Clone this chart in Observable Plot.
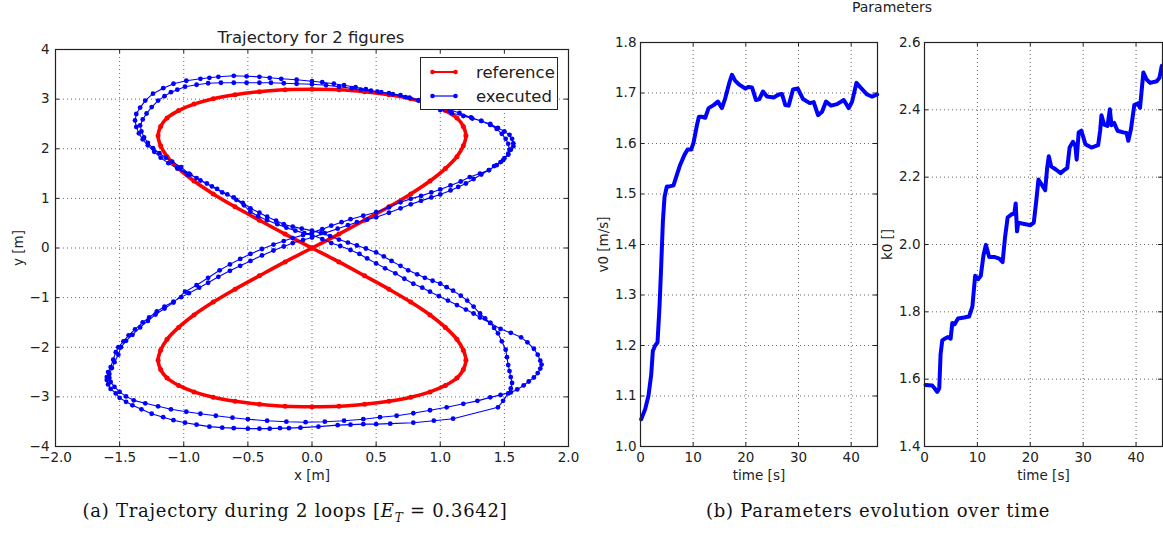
<!DOCTYPE html>
<html><head><meta charset="utf-8">
<script src="https://cdn.jsdelivr.net/npm/d3@7"></script>
<script src="https://cdn.jsdelivr.net/npm/@observablehq/plot@0.6"></script>
<style>
body{margin:0;background:#fff;}
#root{position:relative;width:1163px;height:533px;overflow:hidden;font-family:"DejaVu Sans",sans-serif;color:#222;background:#fff}
.abs{position:absolute;white-space:nowrap}
.cap{font-family:"DejaVu Serif",serif;font-size:18px;letter-spacing:0.75px;color:#111;text-align:center}
.legend{position:absolute;left:420px;top:57px;width:138px;height:53px;border:1px solid #222;background:#fff;box-sizing:border-box;font-size:16.5px}
.legend .row{position:absolute;left:9px;height:20px;display:flex;align-items:center}
.legend .row span{margin-left:18px}
</style></head><body><div id="root"></div>
<script>
// ---------- data ----------
const trajXTicks = [-2, -1.5, -1, -0.5, 0, 0.5, 1, 1.5, 2];
const trajYTicks = [-4, -3, -2, -1, 0, 1, 2, 3, 4];
const timeTicks = [0, 10, 20, 30, 40];
const v0Ticks = [1.0, 1.1, 1.2, 1.3, 1.4, 1.5, 1.6, 1.7, 1.8];
const k0Ticks = [1.4, 1.6, 1.8, 2.0, 2.2, 2.4, 2.6];

const referenceX = [0,0.21,0.41,0.60,0.77,0.92,1.04,1.13,1.18,1.20,1.18,1.13,1.04,0.92,0.77,0.60,0.41,0.21,0,
  -0.21,-0.41,-0.60,-0.77,-0.92,-1.04,-1.13,-1.18,-1.20,-1.18,-1.13,-1.04,-0.92,-0.77,-0.60,-0.41,-0.21,0,
  0.21,0.41,0.60,0.77,0.92,1.04,1.13,1.18,1.20,1.18,1.13,1.04,0.92,0.77,0.60,0.41,0.21,0,
  -0.21,-0.41,-0.60,-0.77,-0.92,-1.04,-1.13,-1.18,-1.20,-1.18,-1.13,-1.04,-0.92,-0.77,-0.60,-0.41,-0.21,0];
const referenceY = [0,0.28,0.56,0.83,1.09,1.35,1.60,1.84,2.06,2.26,2.45,2.62,2.77,2.90,3.01,3.09,3.15,3.19,3.20,
  3.19,3.15,3.09,3.01,2.90,2.77,2.62,2.45,2.26,2.06,1.84,1.60,1.35,1.09,0.83,0.56,0.28,0,
  -0.28,-0.56,-0.83,-1.09,-1.35,-1.60,-1.84,-2.06,-2.26,-2.45,-2.62,-2.77,-2.90,-3.01,-3.09,-3.15,-3.19,-3.20,
  -3.19,-3.15,-3.09,-3.01,-2.90,-2.77,-2.62,-2.45,-2.26,-2.06,-1.84,-1.60,-1.35,-1.09,-0.83,-0.56,-0.28,0];

const executedLoop1 = [[-1.05,1.62],[-0.95,1.48],[-0.87,1.36],[-0.78,1.24],[-0.70,1.12],[-0.61,1.02],[-0.54,0.91],[-0.48,0.80],[-0.41,0.71],[-0.35,0.63],[-0.28,0.55],[-0.22,0.48],[-0.15,0.43],[-0.08,0.39],[0.0,0.35],[0.07,0.30],[0.14,0.24],[0.21,0.17],[0.28,0.11],[0.35,0.05],[0.42,-0.01],[0.50,-0.09],[0.56,-0.17],[0.62,-0.26],[0.69,-0.36],[0.75,-0.45],[0.82,-0.53],[0.88,-0.60],[0.94,-0.66],[1.00,-0.72],[1.05,-0.79],[1.10,-0.86],[1.16,-0.96],[1.21,-1.06],[1.26,-1.18],[1.31,-1.32],[1.35,-1.42],[1.39,-1.51],[1.42,-1.61],[1.45,-1.72],[1.48,-1.88],[1.51,-2.05],[1.52,-2.20],[1.53,-2.36],[1.54,-2.48],[1.55,-2.60],[1.56,-2.72],[1.55,-2.83],[1.53,-2.93],[1.49,-3.08],[1.45,-3.21],[1.10,-3.44],[0.95,-3.48],[0.79,-3.52],[0.61,-3.54],[0.50,-3.55],[0.40,-3.55],[0.30,-3.56],[0.20,-3.57],[0.05,-3.60],[-0.09,-3.62],[-0.18,-3.63],[-0.25,-3.63],[-0.33,-3.64],[-0.41,-3.64],[-0.50,-3.64],[-0.61,-3.63],[-0.70,-3.62],[-0.80,-3.60],[-0.90,-3.56],[-0.99,-3.52],[-1.08,-3.47],[-1.16,-3.41],[-1.25,-3.34],[-1.33,-3.25],[-1.40,-3.17],[-1.45,-3.10],[-1.50,-3.02],[-1.53,-2.93],[-1.57,-2.84],[-1.59,-2.75],[-1.60,-2.66],[-1.60,-2.60],[-1.59,-2.50],[-1.57,-2.40],[-1.55,-2.25],[-1.53,-2.10],[-1.51,-2.00],[-1.47,-1.88],[-1.43,-1.76],[-1.38,-1.64],[-1.32,-1.50],[-1.27,-1.40],[-1.21,-1.28],[-1.15,-1.18],[-1.08,-1.08],[-1.02,-0.99],[-0.96,-0.91],[-0.88,-0.80],[-0.81,-0.70],[-0.73,-0.58],[-0.64,-0.46],[-0.56,-0.36],[-0.48,-0.26],[-0.39,-0.15],[-0.30,-0.05],[-0.22,0.03],[-0.15,0.10],[-0.07,0.16],[0.0,0.21],[0.10,0.30],[0.20,0.39],[0.28,0.46],[0.35,0.52],[0.43,0.57],[0.50,0.62],[0.60,0.71],[0.69,0.80],[0.77,0.88],[0.85,0.95],[0.93,1.02],[1.00,1.08],[1.08,1.16],[1.14,1.23],[1.20,1.30],[1.26,1.39],[1.32,1.48],[1.38,1.57],[1.42,1.65],[1.47,1.73],[1.50,1.81],[1.53,1.90],[1.54,1.98],[1.53,2.10],[1.51,2.20],[1.48,2.30],[1.44,2.40],[1.39,2.48],[1.32,2.56],[1.24,2.63],[1.15,2.72],[1.07,2.79],[1.00,2.84],[0.92,2.91],[0.83,2.97],[0.73,3.04],[0.63,3.10],[0.54,3.14],[0.46,3.17],[0.38,3.19],[0.31,3.22],[0.21,3.25],[0.11,3.28],[0.0,3.30],[-0.12,3.31],[-0.22,3.32],[-0.32,3.33],[-0.41,3.33],[-0.51,3.33],[-0.61,3.33],[-0.71,3.33],[-0.81,3.32],[-0.90,3.29],[-0.99,3.25],[-1.05,3.19],[-1.10,3.14],[-1.15,3.06],[-1.20,2.97],[-1.25,2.84],[-1.29,2.71],[-1.32,2.59],[-1.34,2.47],[-1.33,2.35],[-1.31,2.23],[-1.28,2.12],[-1.24,2.01],[-1.19,1.91],[-1.14,1.82],[-1.09,1.74],[-1.02,1.63]];

const executedLoop2 = [[-0.96,1.50],[-0.90,1.41],[-0.82,1.30],[-0.74,1.19],[-0.66,1.08],[-0.59,0.97],[-0.53,0.86],[-0.48,0.73],[-0.42,0.64],[-0.35,0.56],[-0.27,0.48],[-0.20,0.41],[-0.13,0.35],[-0.06,0.30],[0.0,0.26],[0.08,0.18],[0.15,0.10],[0.22,0.04],[0.30,-0.04],[0.37,-0.12],[0.43,-0.21],[0.50,-0.31],[0.57,-0.41],[0.65,-0.51],[0.72,-0.62],[0.79,-0.72],[0.86,-0.80],[0.92,-0.88],[0.99,-0.97],[1.06,-1.06],[1.13,-1.15],[1.20,-1.24],[1.26,-1.32],[1.31,-1.40],[1.39,-1.51],[1.47,-1.63],[1.55,-1.71],[1.63,-1.80],[1.68,-1.90],[1.73,-2.03],[1.76,-2.15],[1.78,-2.27],[1.79,-2.35],[1.78,-2.43],[1.76,-2.52],[1.73,-2.61],[1.69,-2.69],[1.65,-2.77],[1.60,-2.85],[1.55,-2.91],[1.47,-2.96],[1.39,-3.01],[1.29,-3.08],[1.18,-3.14],[1.05,-3.21],[0.92,-3.27],[0.79,-3.33],[0.66,-3.38],[0.53,-3.41],[0.40,-3.45],[0.25,-3.48],[0.10,-3.50],[-0.05,-3.51],[-0.20,-3.50],[-0.35,-3.48],[-0.50,-3.45],[-0.62,-3.42],[-0.75,-3.38],[-0.87,-3.34],[-0.98,-3.30],[-1.10,-3.25],[-1.20,-3.19],[-1.30,-3.13],[-1.39,-3.07],[-1.45,-2.99],[-1.50,-2.90],[-1.54,-2.80],[-1.57,-2.70],[-1.58,-2.62],[-1.58,-2.54],[-1.56,-2.42],[-1.54,-2.30],[-1.51,-2.15],[-1.49,-2.00],[-1.45,-1.87],[-1.40,-1.75],[-1.34,-1.60],[-1.28,-1.47],[-1.22,-1.34],[-1.15,-1.22],[-1.08,-1.10],[-0.99,-0.88],[-0.90,-0.75],[-0.81,-0.60],[-0.72,-0.45],[-0.64,-0.33],[-0.56,-0.22],[-0.48,-0.12],[-0.39,-0.02],[-0.30,0.07],[-0.22,0.14],[-0.15,0.20],[-0.07,0.26],[0.0,0.31],[0.08,0.38],[0.15,0.45],[0.23,0.52],[0.30,0.58],[0.40,0.65],[0.50,0.72],[0.60,0.82],[0.69,0.92],[0.77,0.99],[0.85,1.05],[0.93,1.12],[1.00,1.18],[1.08,1.26],[1.16,1.34],[1.23,1.43],[1.31,1.50],[1.38,1.57],[1.44,1.67],[1.49,1.77],[1.53,1.88],[1.55,1.98],[1.57,2.05],[1.57,2.11],[1.56,2.20],[1.54,2.28],[1.50,2.35],[1.45,2.42],[1.39,2.50],[1.32,2.56],[1.25,2.61],[1.18,2.66],[1.09,2.72],[1.00,2.78],[0.92,2.88],[0.83,2.98],[0.76,3.03],[0.69,3.08],[0.60,3.12],[0.51,3.15],[0.42,3.20],[0.34,3.24],[0.25,3.28],[0.17,3.31],[0.08,3.34],[0.0,3.36],[-0.12,3.39],[-0.24,3.41],[-0.33,3.43],[-0.41,3.45],[-0.51,3.46],[-0.61,3.47],[-0.73,3.45],[-0.80,3.43],[-0.87,3.41],[-0.98,3.37],[-1.08,3.31],[-1.16,3.22],[-1.24,3.11],[-1.30,2.97],[-1.34,2.83],[-1.37,2.70],[-1.38,2.57],[-1.37,2.44],[-1.35,2.31],[-1.32,2.19],[-1.28,2.07],[-1.23,1.94],[-1.18,1.82],[-1.12,1.71],[-1.05,1.60],[-0.97,1.48]];

const timeV0 = [0.13,0.89,1.52,2.03,2.34,2.79,3.23,3.61,3.93,4.25,4.56,5.0,5.51,6.27,6.9,7.54,8.37,8.94,9.63,10.08,10.71,11.09,11.66,12.29,12.93,13.88,14.7,15.46,16.1,16.85,17.36,18.0,18.82,19.9,20.53,21.17,21.93,22.56,23.26,24.02,25.29,26.24,26.87,27.5,28.13,28.96,29.85,30.86,32.13,32.89,33.71,34.47,35.23,36.18,37.33,38.59,39.54,40.18,41.0,41.76,43.03,43.98,44.93];
const v0 = [1.054,1.074,1.101,1.142,1.189,1.200,1.206,1.277,1.358,1.446,1.494,1.515,1.515,1.517,1.538,1.558,1.578,1.588,1.588,1.602,1.636,1.653,1.653,1.651,1.670,1.676,1.683,1.670,1.690,1.720,1.736,1.724,1.716,1.709,1.712,1.711,1.686,1.688,1.703,1.693,1.691,1.697,1.698,1.676,1.675,1.707,1.709,1.688,1.680,1.682,1.656,1.663,1.683,1.675,1.678,1.686,1.670,1.683,1.720,1.711,1.697,1.693,1.697];

const timeK0 = [0.19,1.46,1.9,2.4,2.79,3.04,3.36,3.8,4.44,4.94,5.26,5.7,6.34,7.48,8.43,9.06,9.57,10.14,10.65,11.15,11.6,12.23,13.18,14.13,14.77,15.21,15.72,16.48,16.98,17.24,17.49,17.74,18.88,20.03,20.66,21.1,21.55,22.24,22.81,23.19,23.5,23.95,24.9,25.73,26.49,26.99,27.44,28.07,28.52,28.77,29.15,29.66,30.42,31.56,32.83,33.21,33.46,33.97,34.6,35.04,35.36,35.87,36.5,37.58,38.21,38.53,39.04,39.67,40.3,40.75,41.38,42.0,42.65,43.92,44.42,44.87];
const k0 = [1.583,1.581,1.573,1.562,1.573,1.674,1.715,1.720,1.725,1.720,1.767,1.763,1.780,1.783,1.786,1.816,1.907,1.897,1.907,1.968,1.999,1.963,1.963,1.958,1.948,2.019,2.080,2.090,2.092,2.122,2.039,2.065,2.061,2.057,2.065,2.125,2.193,2.176,2.161,2.227,2.262,2.232,2.222,2.212,2.222,2.227,2.288,2.305,2.293,2.252,2.333,2.338,2.298,2.288,2.295,2.338,2.384,2.356,2.352,2.402,2.354,2.361,2.338,2.333,2.331,2.308,2.343,2.414,2.419,2.406,2.511,2.490,2.480,2.485,2.495,2.531];

// ---------- build ----------
const reference = referenceX.map((x, i) => ({x, y: referenceY[i]}));
const executed = executedLoop1.concat(executedLoop2).map(([x, y]) => ({x, y}));
const v0Data = timeV0.map((t, i) => ({t, v: v0[i]}));
const k0Data = timeK0.map((t, i) => ({t, v: k0[i]}));

const fmt1 = d3.format(".1f");
const fmt0 = d3.format("d");
const gridStyle = {stroke: "#555", strokeOpacity: 0.9, strokeWidth: 1, strokeDasharray: "1,3"};

function panel(o) {
  const ih = o.height - o.mt - o.mb;
  const iw = o.width - o.ml - o.mr;
  return Plot.plot({
    width: o.width, height: o.height,
    marginLeft: o.ml, marginRight: o.mr, marginTop: o.mt, marginBottom: o.mb,
    style: {fontFamily: "DejaVu Sans", fontSize: "13.5px", color: "#222", background: "transparent", overflow: "visible"},
    x: {domain: o.xDomain, ticks: o.xTicks, tickFormat: o.xFmt, tickSize: 0, tickPadding: 6,
        label: o.xLabel, labelAnchor: "center", labelArrow: "none", labelOffset: o.xLabelOffset},
    y: {domain: o.yDomain, ticks: o.yTicks, tickFormat: o.yFmt, tickSize: 0, tickPadding: o.yPad,
        label: o.yLabel, labelAnchor: "center", labelArrow: "none", labelOffset: o.yLabelOffset},
    marks: [
      Plot.gridX(o.xTicks, gridStyle),
      Plot.gridY(o.yTicks, gridStyle),
      ...o.marks,
      Plot.tickX(o.xTicks, {x: d => d, insetTop: ih - 4, stroke: "#222"}),
      Plot.tickX(o.xTicks, {x: d => d, insetBottom: ih - 4, stroke: "#222"}),
      Plot.tickY(o.yTicks, {y: d => d, insetLeft: iw - 4, stroke: "#222"}),
      Plot.tickY(o.yTicks, {y: d => d, insetRight: iw - 4, stroke: "#222"}),
      Plot.frame({stroke: "#222", strokeWidth: 1.2})
    ]
  });
}

const root = document.getElementById("root");
function place(el, left, top) {
  el.style.position = "absolute"; el.style.left = left + "px"; el.style.top = top + "px";
  root.appendChild(el);
}

const traj = panel({
  width: 580, height: 480, ml: 55, mr: 12, mt: 49, mb: 34,
  xDomain: [-2, 2], yDomain: [-4, 4], xTicks: trajXTicks, yTicks: trajYTicks,
  xFmt: fmt1, yFmt: fmt0, yPad: 6,
  xLabel: "x [m]", yLabel: "y [m]", xLabelOffset: 33, yLabelOffset: 42,
  marks: [
    Plot.line(reference, {x: "x", y: "y", stroke: "#ff0000", strokeWidth: 3.6, curve: "catmull-rom"}),
    Plot.dot(reference, {x: "x", y: "y", r: 2.5, fill: "#ff0000"}),
    Plot.line(executed, {x: "x", y: "y", stroke: "#0000ff", strokeWidth: 1.1}),
    Plot.dot(executed, {x: "x", y: "y", r: 2.4, fill: "#0000ff"})
  ]
});
place(traj, 0, 0);

const pv = panel({
  width: 300, height: 480, ml: 60, mr: 3, mt: 42, mb: 34,
  xDomain: [0, 45], yDomain: [1.0, 1.8], xTicks: timeTicks, yTicks: v0Ticks,
  xFmt: fmt0, yFmt: fmt1, yPad: 4,
  xLabel: "time [s]", yLabel: "v0 [m/s]", xLabelOffset: 33, yLabelOffset: 42,
  marks: [
    Plot.line(v0Data, {x: "t", y: "v", stroke: "#0000ff", strokeWidth: 4, strokeLinejoin: "round"})
  ]
});
place(pv, 580, 0);

const pk = panel({
  width: 283, height: 480, ml: 44, mr: 1, mt: 42, mb: 34,
  xDomain: [0, 45], yDomain: [1.4, 2.6], xTicks: timeTicks, yTicks: k0Ticks,
  xFmt: fmt0, yFmt: fmt1, yPad: 4,
  xLabel: "time [s]", yLabel: "k0 []", xLabelOffset: 33, yLabelOffset: 42,
  marks: [
    Plot.line(k0Data, {x: "t", y: "v", stroke: "#0000ff", strokeWidth: 4, strokeLinejoin: "round"})
  ]
});
place(pk, 880, 0);

// titles, legend, captions
function addText(html, cls, left, top, width, extra) {
  const d = document.createElement("div");
  d.className = "abs " + (cls || "");
  d.innerHTML = html;
  d.style.left = left + "px"; d.style.top = top + "px";
  if (width) { d.style.width = width + "px"; d.style.textAlign = "center"; }
  if (extra) Object.assign(d.style, extra);
  root.appendChild(d);
  return d;
}
addText("Trajectory for 2 figures", "", 211, 28, 200, {fontSize: "16.5px"});
addText("Parameters", "", 842, -1, 100, {fontSize: "14px"});

const legend = document.createElement("div");
legend.className = "legend";
legend.innerHTML =
  '<div class="row" style="top:4px"><svg width="28" height="10"><line x1="2" y1="5" x2="26" y2="5" stroke="#ff0000" stroke-width="2"/><circle cx="2.5" cy="5" r="2.3" fill="#ff0000"/><circle cx="25.5" cy="5" r="2.3" fill="#ff0000"/></svg><span>reference</span></div>' +
  '<div class="row" style="top:28px"><svg width="28" height="10"><line x1="2" y1="5" x2="26" y2="5" stroke="#0000ff" stroke-width="1.2"/><circle cx="2.5" cy="5" r="2.3" fill="#0000ff"/><circle cx="25.5" cy="5" r="2.3" fill="#0000ff"/></svg><span>executed</span></div>';
root.appendChild(legend);

addText('(a) Trajectory during 2 loops [<i>E</i><sub style="font-size:12px;font-style:italic">T</sub> = 0.3642]', "cap", 45, 500, 500);
addText('(b) Parameters evolution over time', "cap", 628, 500, 500);
</script></body></html>
